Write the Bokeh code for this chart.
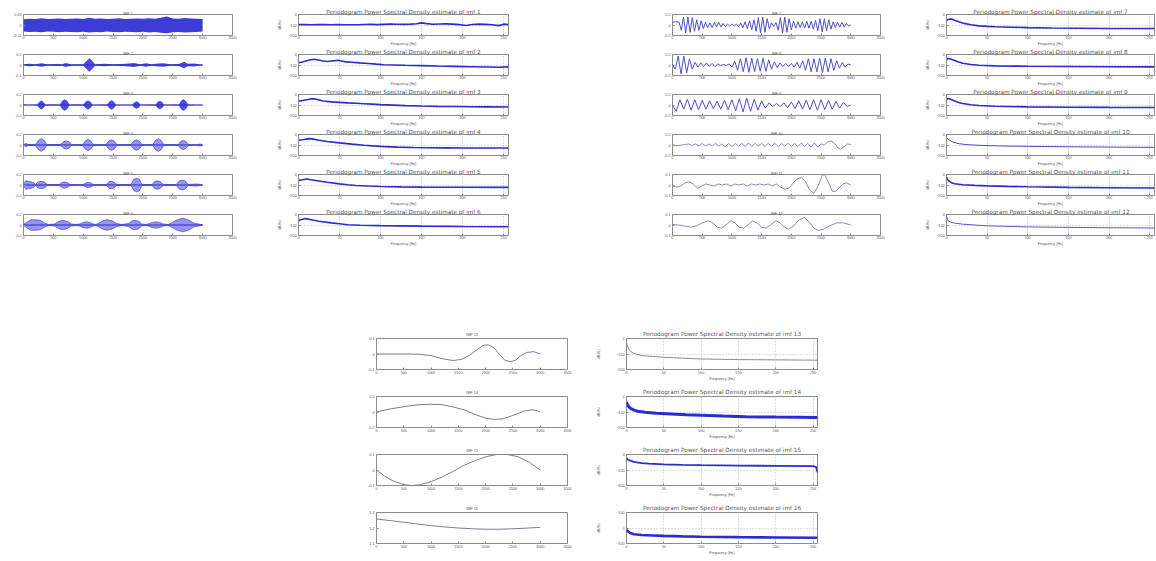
import numpy as np
from bokeh.plotting import figure
from bokeh.layouts import row, column, Spacer
from bokeh.models import Range1d, FixedTicker
from bokeh.embed import file_html
from bokeh.resources import INLINE

# ---------------- data ----------------
IMF_XTICKS = [0, 500, 1000, 1500, 2000, 2500, 3000, 3500]
PSD_XTICKS = [0, 50, 100, 150, 200, 250]

# IMF 1: envelope of dense noise band (every 100 samples)
IMF1_UP = [0.0055, 0.006, 0.0058, 0.0065, 0.0057, 0.006, 0.0062, 0.0058, 0.006, 0.0063,
           0.0058, 0.0068, 0.006, 0.0062, 0.0057, 0.006, 0.0064, 0.0058, 0.006, 0.0062,
           0.0059, 0.0065, 0.006, 0.0068, 0.0082, 0.0062, 0.006, 0.0066, 0.0062, 0.006, 0.0058]
IMF1_LO = [-0.0062, -0.0066, -0.0064, -0.007, -0.0063, -0.0065, -0.0068, -0.0064, -0.0066, -0.0069,
           -0.0064, -0.0072, -0.0066, -0.0068, -0.0063, -0.0066, -0.007, -0.0064, -0.0066, -0.0068,
           -0.0065, -0.0071, -0.0066, -0.0074, -0.0078, -0.0068, -0.0066, -0.0072, -0.0068, -0.0066, -0.0062]

# IMF 2-6: burst envelopes (sample, amplitude)
IMF2_ENV_X = [0, 100, 200, 300, 400, 550, 650, 700, 800, 1000, 1060, 1100, 1140, 1200, 1350,
              1500, 1650, 1850, 1950, 2050, 2150, 2250, 2350, 2450, 2600, 2690, 2750, 2850, 2950, 3000]
IMF2_ENV_A = [0.008, 0.012, 0.006, 0.016, 0.006, 0.01, 0.008, 0.02, 0.006, 0.008, 0.04, 0.065, 0.045, 0.008, 0.012,
              0.006, 0.01, 0.02, 0.008, 0.016, 0.008, 0.014, 0.016, 0.008, 0.01, 0.03, 0.012, 0.014, 0.008, 0.005]

IMF3_ENV_X = [0, 60, 150, 230, 265, 297, 330, 370, 610, 650, 690, 730, 770, 1000, 1045, 1081, 1120, 1160,
              1400, 1440, 1473, 1510, 1550, 1820, 1855, 1893, 1930, 1960, 2210, 2250, 2285, 2320, 2360,
              2600, 2640, 2677, 2715, 2760, 2900, 3000]
IMF3_ENV_A = [0.012, 0.006, 0.004, 0.008, 0.06, 0.085, 0.06, 0.008, 0.008, 0.08, 0.11, 0.08, 0.008,
              0.008, 0.065, 0.085, 0.06, 0.006, 0.008, 0.065, 0.09, 0.065, 0.006, 0.006, 0.05, 0.07, 0.05, 0.006,
              0.008, 0.06, 0.08, 0.055, 0.006, 0.008, 0.08, 0.11, 0.08, 0.008, 0.006, 0.004]

IMF4_ENV_X = [0, 40, 90, 200, 250, 297, 345, 390, 620, 670, 717, 765, 810, 990, 1035, 1081, 1125, 1170,
              1380, 1425, 1473, 1520, 1565, 1800, 1845, 1893, 1940, 1985, 2165, 2210, 2257, 2305, 2350,
              2590, 2635, 2677, 2720, 2765, 2900, 2957, 3000]
IMF4_ENV_A = [0.01, 0.03, 0.008, 0.01, 0.09, 0.12, 0.09, 0.008, 0.008, 0.06, 0.08, 0.06, 0.006,
              0.008, 0.08, 0.11, 0.08, 0.006, 0.008, 0.075, 0.10, 0.075, 0.006, 0.008, 0.075, 0.10, 0.075, 0.006,
              0.008, 0.09, 0.12, 0.09, 0.006, 0.008, 0.07, 0.09, 0.065, 0.006, 0.006, 0.02, 0.004]

IMF5_ENV_X = [0, 40, 100, 160, 200, 250, 300, 350, 400, 600, 645, 690, 735, 780, 1000, 1040, 1085, 1130, 1170,
              1390, 1430, 1475, 1520, 1560, 1800, 1850, 1895, 1940, 1985, 2150, 2200, 2245, 2290, 2340,
              2560, 2610, 2660, 2710, 2760, 2880, 2940, 3000]
IMF5_ENV_A = [0.03, 0.08, 0.07, 0.05, 0.01, 0.06, 0.07, 0.055, 0.008, 0.008, 0.05, 0.06, 0.045, 0.008,
              0.006, 0.04, 0.05, 0.04, 0.006, 0.008, 0.06, 0.07, 0.055, 0.008, 0.01, 0.11, 0.13, 0.11, 0.01,
              0.008, 0.07, 0.08, 0.065, 0.008, 0.01, 0.08, 0.09, 0.075, 0.01, 0.02, 0.015, 0.004]

IMF6_ENV_X = [0, 50, 120, 200, 280, 355, 420, 520, 590, 660, 730, 800, 880, 940, 1000, 1055, 1110, 1165, 1210,
              1250, 1330, 1400, 1480, 1560, 1650, 1760, 1820, 1870, 1930, 1980, 2040, 2090, 2160, 2215, 2280,
              2340, 2420, 2480, 2570, 2670, 2760, 2850, 2930, 3000]
IMF6_ENV_A = [0.01, 0.05, 0.10, 0.10, 0.09, 0.04, 0.01, 0.02, 0.07, 0.09, 0.07, 0.02, 0.01, 0.02, 0.05, 0.06,
              0.05, 0.02, 0.01, 0.03, 0.08, 0.10, 0.08, 0.03, 0.01, 0.03, 0.08, 0.09, 0.07, 0.02, 0.01, 0.02,
              0.05, 0.06, 0.05, 0.02, 0.01, 0.04, 0.10, 0.13, 0.10, 0.04, 0.02, 0.005]

# IMF 7-10: successive peaks / troughs, evenly spaced over samples 0..3000
IMF7_Y = [0.05, 0.06, 0.06, 0.05, -0.10, 0.15, -0.15, 0.15, -0.14, 0.14,
          -0.12, 0.10, -0.10, 0.08, -0.07, 0.05, -0.05, 0.04, -0.05, 0.05,
          -0.04, 0.05, -0.04, 0.03, -0.03, 0.02, -0.02, 0.02, -0.02, 0.02,
          -0.03, 0.04, -0.05, 0.06, -0.07, 0.08, -0.09, 0.10, -0.12, 0.14,
          -0.15, 0.15, -0.14, 0.12, -0.07, 0.04, -0.03, 0.05, -0.10, 0.14,
          -0.15, 0.15, -0.14, 0.12, -0.09, 0.07, -0.06, 0.06, -0.05, 0.06,
          -0.06, 0.07, -0.06, 0.07, -0.08, 0.09, -0.11, 0.12, -0.13, 0.12,
          -0.11, 0.10, -0.08, 0.06, -0.05, 0.05, -0.04, 0.05, -0.04, 0.03,
          -0.02, 0.0]
IMF8_Y = [0.0, -0.08, 0.17, -0.17, 0.17, -0.15, 0.12, -0.08, 0.05, -0.04,
          0.04, -0.03, 0.04, -0.03, 0.03, -0.03, 0.02, -0.01, 0.01, -0.01,
          0.02, -0.04, 0.07, -0.10, 0.12, -0.13, 0.14, -0.14, 0.13, -0.13,
          0.12, -0.12, 0.13, -0.12, 0.10, -0.08, 0.06, -0.05, 0.04, -0.03,
          0.03, -0.03, 0.03, -0.04, 0.05, -0.06, 0.08, -0.10, 0.12, -0.13,
          0.12, -0.13, 0.13, -0.14, 0.13, -0.13, 0.12, -0.10, 0.08, -0.06,
          0.05, -0.04, 0.02, 0.0]
IMF9_Y = [0.0, -0.12, 0.10, -0.08, 0.11, -0.10, 0.10, -0.09, 0.09, -0.08,
          0.08, -0.07, 0.07, -0.08, 0.09, -0.09, 0.10, -0.11, 0.12, -0.13,
          0.13, -0.12, 0.11, -0.10, 0.08, -0.06, 0.04, -0.03, 0.03, -0.03,
          0.04, -0.05, 0.06, -0.07, 0.08, -0.08, 0.09, -0.09, 0.10, -0.10,
          0.10, -0.09, 0.09, -0.08, 0.07, -0.06, 0.05, -0.03, 0.0]
IMF10_Y = [0.0, -0.01, -0.01, 0.0, 0.01, 0.02, -0.01, 0.02, -0.02, 0.03,
           -0.02, 0.02, -0.02, 0.03, -0.02, 0.02, -0.03, 0.03, -0.03, 0.03,
           -0.02, 0.03, -0.03, 0.04, -0.03, 0.03, -0.02, 0.03, -0.03, 0.03,
           -0.02, 0.03, -0.03, 0.03, -0.02, 0.03, -0.03, 0.03, -0.03, 0.04,
           -0.03, 0.03, -0.04, 0.04, -0.04, 0.02, 0.0, 0.06, 0.08, 0.04,
           -0.05, -0.08, -0.03, 0.02, 0.01]

# IMF 11-16: smooth curves (sample, value)
IMF11_X = [0, 70, 140, 210, 280, 350, 420, 490, 560, 630, 700, 770, 840, 910, 980, 1050, 1120, 1190, 1260,
           1330, 1400, 1470, 1540, 1610, 1680, 1750, 1820, 1890, 1960, 2030, 2100, 2170, 2240, 2310, 2380,
           2450, 2520, 2560, 2620, 2690, 2740, 2800, 2870, 2930, 3000]
IMF11_Y = [-0.01, -0.02, -0.01, 0.02, 0.03, 0.01, -0.03, -0.01, 0.01, 0.0, -0.01, 0.01, 0.0, 0.01, -0.01,
           0.01, 0.0, 0.01, -0.01, 0.01, 0.0, 0.01, 0.0, 0.01, -0.01, 0.01, -0.02, -0.04, -0.03, 0.02,
           0.06, 0.07, 0.03, -0.05, -0.08, -0.01, 0.09, 0.10, 0.03, -0.06, -0.06, -0.03, 0.01, 0.02, 0.0]
IMF12_X = [0, 100, 200, 300, 400, 500, 600, 680, 750, 820, 900, 980, 1050, 1120, 1190, 1270, 1350, 1420,
           1500, 1570, 1650, 1740, 1810, 1880, 1950, 2040, 2130, 2220, 2300, 2380, 2450, 2540, 2640, 2760,
           2880, 3000]
IMF12_Y = [0.005, 0.0, -0.01, -0.02, -0.01, 0.02, 0.04, 0.02, -0.02, -0.03, 0.0, 0.04, 0.02, -0.02, -0.03,
           0.0, 0.04, 0.02, -0.02, -0.03, 0.0, 0.04, 0.02, -0.02, -0.04, -0.01, 0.05, 0.07, 0.03, -0.03,
           -0.05, -0.04, -0.01, 0.02, 0.02, 0.0]
IMF13_X = [0, 300, 600, 800, 1000, 1200, 1400, 1550, 1700, 1850, 1950, 2050, 2150, 2250, 2350, 2450,
           2550, 2650, 2750, 2880, 3000]
IMF13_Y = [0.0, 0.0, 0.0, -0.002, -0.01, -0.03, -0.042, -0.035, -0.01, 0.03, 0.055, 0.06, 0.04, 0.0,
           -0.04, -0.05, -0.04, -0.01, 0.01, 0.015, 0.0]
IMF14_X = [0, 250, 560, 800, 1000, 1200, 1400, 1600, 1800, 2000, 2150, 2300, 2500, 2700, 2850, 2950, 3000]
IMF14_Y = [0.0, 0.04, 0.075, 0.095, 0.10, 0.095, 0.065, 0.03, -0.03, -0.08, -0.095, -0.09, -0.045,
           0.01, 0.03, 0.015, 0.0]
IMF15_X = [0, 150, 300, 500, 650, 800, 1000, 1200, 1400, 1600, 1800, 2000, 2200, 2400, 2600, 2800, 3000]
IMF15_Y = [0.0, -0.04, -0.07, -0.095, -0.1, -0.095, -0.075, -0.045, -0.01, 0.03, 0.06, 0.085, 0.1,
           0.1, 0.085, 0.05, 0.0]
IMF16_X = [0, 250, 500, 750, 1000, 1250, 1500, 1750, 2000, 2250, 2500, 2750, 3000]
IMF16_Y = [1.258, 1.248, 1.237, 1.226, 1.215, 1.207, 1.200, 1.195, 1.192, 1.192, 1.195, 1.199, 1.204]

# Periodogram PSD estimates (frequency Hz, dB/Hz)
PSD1_F = [0, 8, 16, 24, 32, 40, 48, 56, 64, 72, 80, 88, 96, 104, 112, 120, 128, 136, 144, 150, 156, 164,
          172, 180, 188, 196, 204, 212, 220, 228, 236, 244, 250, 256]
PSD1_DB = [-96, -95, -97, -96, -95, -98, -96, -97, -98, -97, -95, -94, -96, -94, -92, -93, -94, -92, -88,
           -80, -87, -93, -90, -89, -92, -96, -104, -95, -92, -94, -98, -106, -92, -96]
PSD2_F = [0, 5, 10, 15, 19, 24, 30, 35, 40, 45, 48, 52, 58, 65, 75, 85, 95, 104, 115, 130, 150, 170, 190,
          210, 230, 245, 256]
PSD2_DB = [-78, -72, -60, -50, -46, -52, -62, -66, -62, -58, -55, -62, -70, -74, -80, -85, -92, -98, -100,
           -103, -106, -110, -113, -116, -119, -121, -118]
PSD3_F = [0, 5, 10, 15, 19, 24, 30, 40, 50, 60, 70, 80, 90, 100, 115, 130, 150, 170, 190, 210, 230, 256]
PSD3_DB = [-62, -58, -50, -42, -40, -50, -62, -70, -75, -80, -84, -88, -92, -96, -101, -106, -110, -113,
           -115, -117, -118, -119]
PSD4_F = [0, 5, 10, 13, 18, 25, 35, 50, 65, 80, 100, 120, 140, 160, 180, 200, 230, 256]
PSD4_DB = [-55, -50, -42, -39, -44, -55, -67, -80, -92, -102, -113, -120, -124, -126, -127, -128, -129, -128]
PSD5_F = [0, 5, 10, 15, 25, 35, 50, 60, 70, 85, 100, 125, 150, 200, 256]
PSD5_DB = [-58, -50, -43, -50, -62, -74, -89, -98, -105, -110, -114, -118, -120, -122, -123]
PSD6_F = [0, 4, 8, 14, 25, 40, 50, 60, 75, 100, 150, 200, 256]
PSD6_DB = [-57, -48, -39, -48, -65, -80, -88, -97, -102, -106, -111, -114, -116]
PSD7_F = [0, 3, 6, 10, 15, 20, 30, 40, 50, 60, 80, 100, 130, 160, 200, 256]
PSD7_DB = [-55, -45, -42, -55, -70, -82, -98, -108, -113, -117, -121, -125, -129, -131, -133, -134]
PSD8_F = [0, 2, 5, 10, 15, 20, 30, 40, 60, 100, 150, 200, 256]
PSD8_DB = [-45, -38, -42, -58, -72, -83, -95, -102, -108, -112, -115, -117, -118]
PSD9_F = [0, 2, 5, 10, 15, 20, 30, 40, 60, 100, 150, 200, 256]
PSD9_DB = [-45, -38, -45, -62, -76, -86, -98, -105, -112, -118, -121, -123, -124]
PSD10_F = [0, 2, 5, 8, 12, 16, 20, 30, 50, 75, 100, 150, 200, 256]
PSD10_DB = [-30, -45, -60, -72, -82, -88, -92, -99, -106, -110, -113, -117, -120, -123]
PSD11_F = [0, 1, 3, 6, 10, 20, 35, 50, 75, 100, 150, 200, 256]
PSD11_DB = [-25, -45, -62, -78, -88, -98, -104, -108, -113, -117, -123, -126, -129]
PSD12_F = [0, 1, 2, 5, 10, 20, 50, 100, 150, 200, 256]
PSD12_DB = [-15, -40, -60, -72, -82, -92, -108, -118, -123, -126, -128]
PSD13_F = [0, 1, 3, 6, 10, 18, 25, 50, 75, 100, 150, 200, 256]
PSD13_DB = [-25, -45, -68, -85, -96, -107, -113, -121, -127, -132, -136, -138, -140]
PSD14_F = [0, 1, 3, 6, 10, 15, 25, 40, 60, 80, 100, 130, 160, 200, 256]
PSD14_DB = [-35, -50, -65, -78, -88, -95, -102, -108, -113, -118, -121, -126, -130, -133, -136]
PSD15_F = [0, 2, 5, 10, 20, 30, 50, 75, 100, 150, 200, 250, 254, 256]
PSD15_DB = [-50, -65, -80, -95, -110, -118, -128, -134, -138, -143, -146, -150, -160, -230]
PSD16_F = [0, 2, 5, 10, 20, 35, 50, 75, 100, 150, 200, 256]
PSD16_DB = [-12, -22, -32, -40, -45, -48, -51, -54, -56, -59, -61, -63]

IMF_YR = [(-0.01, 0.01), (-0.1, 0.1), (-0.2, 0.2), (-0.2, 0.2), (-0.2, 0.2), (-0.2, 0.2),
          (-0.2, 0.2), (-0.2, 0.2), (-0.2, 0.2), (-0.2, 0.2), (-0.1, 0.1), (-0.1, 0.1),
          (-0.1, 0.1), (-0.2, 0.2), (-0.1, 0.1), (1.1, 1.3)]
IMF_YTICKS = [[-0.01, 0, 0.01], [-0.1, 0, 0.1], [-0.2, 0, 0.2], [-0.2, 0, 0.2], [-0.2, 0, 0.2], [-0.2, 0, 0.2],
              [-0.2, 0, 0.2], [-0.2, 0, 0.2], [-0.2, 0, 0.2], [-0.2, 0, 0.2], [-0.1, 0, 0.1], [-0.1, 0, 0.1],
              [-0.1, 0, 0.1], [-0.2, 0, 0.2], [-0.1, 0, 0.1], [1.1, 1.2, 1.3]]
IMF_YLABELS = [["-0.01", "0", "0.01"], ["-0.1", "0", "0.1"], ["-0.2", "0", "0.2"], ["-0.2", "0", "0.2"],
               ["-0.2", "0", "0.2"], ["-0.2", "0", "0.2"], ["-0.2", "0", "0.2"], ["-0.2", "0", "0.2"],
               ["-0.2", "0", "0.2"], ["-0.2", "0", "0.2"], ["-0.1", "0", "0.1"], ["-0.1", "0", "0.1"],
               ["-0.1", "0", "0.1"], ["-0.2", "0", "0.2"], ["-0.1", "0", "0.1"], ["1.1", "1.2", "1.3"]]
PSD_YR = [(-200, 0)] * 14 + [(-400, 0), (-100, 100)]
PSD_YTICKS = [[-200, -100, 0]] * 14 + [[-400, -200, 0], [-100, 0, 100]]

# ---------------- styling ----------------
FONT = "Liberation Sans"
TFONT = "DejaVu Sans"
TXT = "#555555"
AX = "#8c8c8c"
BLUE = "#2b2bd4"
TICK_FS = "3.7px"


def base(fw, fh, l, r, t, b, xr, yr, xticks, yticks, ylabels, grid, title, title_fs, title_font,
         title_so, xtick_so):
    p = figure(frame_width=fw, frame_height=fh, min_border_left=l, min_border_right=r,
               min_border_top=t, min_border_bottom=b, x_range=Range1d(*xr), y_range=Range1d(*yr),
               output_backend="svg", toolbar_location=None, title=title)
    p.background_fill_color = "white"
    p.border_fill_color = "white"
    p.outline_line_color = AX
    p.outline_line_width = 1
    p.title.align = "center"
    p.title.vertical_align = "top"
    p.title.text_font = title_font
    p.title.text_font_size = title_fs
    p.title.text_font_style = "normal"
    p.title.text_color = TXT
    p.title.standoff = title_so
    p.title.offset = 0
    for ax in (p.xaxis[0], p.yaxis[0]):
        ax.axis_line_color = None
        ax.major_tick_in = 2
        ax.major_tick_out = 0
        ax.major_tick_line_color = AX
        ax.minor_tick_line_color = None
        ax.major_label_text_font = FONT
        ax.major_label_text_font_size = TICK_FS
        ax.major_label_text_color = TXT
        ax.axis_label_text_font = FONT
        ax.axis_label_text_font_size = TICK_FS
        ax.axis_label_text_font_style = "normal"
        ax.axis_label_text_color = TXT
    p.xaxis[0].major_label_standoff = xtick_so
    p.yaxis[0].major_label_standoff = 2
    p.xaxis[0].ticker = FixedTicker(ticks=xticks)
    p.yaxis[0].ticker = FixedTicker(ticks=yticks)
    if ylabels is not None:
        p.yaxis[0].major_label_overrides = {float(k): v for k, v in zip(yticks, ylabels)}
    if grid:
        for g in (p.xgrid[0], p.ygrid[0]):
            g.grid_line_color = "#bdbdbd"
            g.grid_line_dash = "1 2"
            g.grid_line_width = 1
    else:
        p.xgrid.visible = False
        p.ygrid.visible = False
    return p


def imf_fig(k, geom, title_so, xtick_so):
    fw, fh, l, r, t, b = geom
    n = k + 1
    p = base(fw, fh, l, r, t, b, (0, 3500), IMF_YR[k], IMF_XTICKS, IMF_YTICKS[k], IMF_YLABELS[k], False,
             "IMF %d" % n, "3.8px", FONT, title_so, xtick_so)
    if n == 1:
        xs = np.linspace(0, 3000, len(IMF1_UP))
        p.varea(x=xs, y1=IMF1_LO, y2=IMF1_UP, fill_color=BLUE, fill_alpha=0.92)
    elif 2 <= n <= 6:
        ex = {2: IMF2_ENV_X, 3: IMF3_ENV_X, 4: IMF4_ENV_X, 5: IMF5_ENV_X, 6: IMF6_ENV_X}[n]
        ea = {2: IMF2_ENV_A, 3: IMF3_ENV_A, 4: IMF4_ENV_A, 5: IMF5_ENV_A, 6: IMF6_ENV_A}[n]
        ea = np.array(ea)
        alpha = 0.85 if n <= 3 else 0.5
        p.varea(x=ex, y1=-ea, y2=ea, fill_color=BLUE, fill_alpha=alpha)
        p.line(ex, np.zeros(len(ex)), line_color=BLUE, line_width=1)
        if n >= 4:
            p.line(ex, ea, line_color=BLUE, line_width=0.7, line_alpha=0.8)
            p.line(ex, -ea, line_color=BLUE, line_width=0.7, line_alpha=0.8)
    elif 7 <= n <= 10:
        ys = {7: IMF7_Y, 8: IMF8_Y, 9: IMF9_Y, 10: IMF10_Y}[n]
        xs = np.linspace(0, 3000, len(ys))
        col = "#5050c4" if n <= 9 else "#8a8ac8"
        p.line(xs, ys, line_color=col, line_width=1)
    else:
        xs = {11: IMF11_X, 12: IMF12_X, 13: IMF13_X, 14: IMF14_X, 15: IMF15_X, 16: IMF16_X}[n]
        ys = {11: IMF11_Y, 12: IMF12_Y, 13: IMF13_Y, 14: IMF14_Y, 15: IMF15_Y, 16: IMF16_Y}[n]
        col = "#8a8ac8" if n <= 12 else "#7c7c92"
        p.line(xs, ys, line_color=col, line_width=1)
    return p


PSD_F = [PSD1_F, PSD2_F, PSD3_F, PSD4_F, PSD5_F, PSD6_F, PSD7_F, PSD8_F, PSD9_F, PSD10_F, PSD11_F,
         PSD12_F, PSD13_F, PSD14_F, PSD15_F, PSD16_F]
PSD_DB = [PSD1_DB, PSD2_DB, PSD3_DB, PSD4_DB, PSD5_DB, PSD6_DB, PSD7_DB, PSD8_DB, PSD9_DB, PSD10_DB,
          PSD11_DB, PSD12_DB, PSD13_DB, PSD14_DB, PSD15_DB, PSD16_DB]
PSD_STYLE = {10: ("#4a4ac8", 1.0), 12: ("#5a5ac8", 1.0), 13: ("#8a8a8a", 1.0),
             14: (BLUE, 3.0), 15: (BLUE, 1.8), 16: (BLUE, 2.6)}


def psd_fig(k, geom, title_so, ylab_so, xtick_so, xlab_so):
    fw, fh, l, r, t, b = geom
    n = k + 1
    p = base(fw, fh, l, r, t, b, (0, 256), PSD_YR[k], PSD_XTICKS, PSD_YTICKS[k], None, True,
             "Periodogram Power Spectral Density estimate of imf %d" % n, "5.7px", TFONT, title_so,
             xtick_so)
    p.xaxis[0].axis_label = "Frequency (Hz)"
    p.xaxis[0].axis_label_standoff = xlab_so
    p.yaxis[0].axis_label = "dB/Hz"
    p.yaxis[0].axis_label_standoff = ylab_so
    col, lw = PSD_STYLE.get(n, (BLUE, 1.6))
    p.line(PSD_F[k], PSD_DB[k], line_color=col, line_width=lw)
    return p


# ---------------- layout ----------------
# (frame_w, frame_h, border_left, border_right, border_top, border_bottom)
GA = (209, 21, 23, 20, 6, 13)
GB = (210, 21, 46, 134, 6, 13)
GC = (208, 21, 30, 30, 6, 13)
GD = (208, 21, 36, 1, 6, 13)
GI = (191, 31, 22, 25, 11, 16)
GP = (191, 31, 34, 8, 11, 16)

rows = [Spacer(width=10, height=8)]
for k in range(6):
    rows.append(row(imf_fig(k, GA, -6, 0),
                    psd_fig(k, GB, -4, 3, 0, 0),
                    imf_fig(k + 6, GC, -6, 0),
                    psd_fig(k + 6, GD, -4, 3, 0, 0)))
rows.append(Spacer(width=10, height=79))
for k in range(12, 16):
    rows.append(row(Spacer(width=354, height=58),
                    imf_fig(k, GI, 0, 1),
                    psd_fig(k, GP, 0, 12, 1, 0)))

layout = column(*rows)
open("out.html", "w").write(file_html(layout, INLINE, title="IMF periodograms"))
